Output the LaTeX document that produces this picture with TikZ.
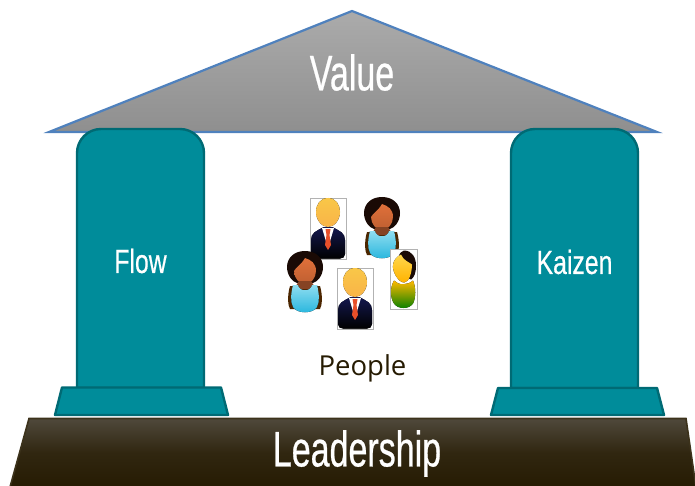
\documentclass[tikz,border=0pt]{standalone}
\usepackage{fontspec}
\setmainfont{Open Sans}
\newfontfamily\condfont[FakeStretch=0.68,FakeBold=0.5]{Liberation Sans}
\newfontfamily\condfontb[FakeStretch=0.74,FakeBold=0.4]{Liberation Sans}
\definecolor{tealfill}{HTML}{008C9A}
\definecolor{tealline}{HTML}{006A74}
\definecolor{roofline}{HTML}{4F81BD}
\definecolor{darkbase}{HTML}{261B02}
\definecolor{midbase}{HTML}{4F483B}
\definecolor{skinm}{HTML}{F8BD55}
\definecolor{suit}{HTML}{14184E}
\definecolor{tiered}{HTML}{E8502A}
\definecolor{skind}{HTML}{E0703A}
\definecolor{hair}{HTML}{1A0A05}
\definecolor{vesta}{HTML}{8FDDF0}
\definecolor{vestb}{HTML}{25B5DD}
\tikzset{
  x=1pt,y=-1pt,
  pillarshape/.style={fill=tealfill,draw=tealline,line width=2.4pt,line join=round},
  roofshape/.style={top color=black!33,bottom color=black!44,draw=roofline,line width=2.2pt,line join=miter},
  baseshape/.style={draw=darkbase!90,line width=1.6pt,top color=midbase,bottom color=darkbase,middle color=darkbase!75!midbase},
  condlabel/.style={text=white,inner sep=0pt},
  manicon/.pic={
    \draw[black!30,line width=.9pt,fill=white] (0,0) rectangle (36,61);
    \fill[top color=suit,bottom color=black] (1,42) .. controls (1,35) and (6,33) .. (14,29) -- (22,29) .. controls (30,33) and (35,35) .. (35,42) -- (35,56) .. controls (35,59) and (33,60.5) .. (30,60.5) -- (6,60.5) .. controls (3,60.5) and (1,59) .. (1,56) -- cycle;
    \fill[white] (12,30) -- (24,30) -- (18,50) -- cycle;
    \fill[tiered] (15.5,31) -- (20.5,31) -- (19.5,37) -- (21,47) -- (18,52) -- (15,47) -- (16.5,37) -- cycle;
    \fill[top color=skinm!85!yellow,bottom color=skinm!85!orange] (18,0) .. controls (26,0) and (30,7) .. (30,14) .. controls (30,22) and (24,29) .. (18,29) .. controls (12,29) and (6,22) .. (6,14) .. controls (6,7) and (10,0) .. (18,0) -- cycle;
  },
  womanicon/.pic={
    \fill[black!70!orange] (3,35) .. controls (0,45) and (1,55) .. (3,58) -- (33,58) .. controls (35,55) and (36,45) .. (33,35) -- cycle;
    \fill[hair] (18,0) .. controls (29,0) and (36,7) .. (36,16) .. controls (36,25) and (30,31) .. (26,32) -- (10,32) .. controls (6,31) and (0,25) .. (0,16) .. controls (0,7) and (7,0) .. (18,0) -- cycle;
    \fill[top color=skind,bottom color=skind!85!black] (18,7) .. controls (24,9) and (29,12) .. (29,20) .. controls (29,27) and (24,33) .. (18,33) .. controls (12,33) and (7,27) .. (7,20) .. controls (9,16) and (14,14) .. (18,7) -- cycle;
    \fill[skind!60!black] (12,30) -- (24,30) -- (29,38) -- (7,38) -- cycle;
    \fill[top color=vesta,bottom color=vestb] (6,34) -- (11,34) .. controls (12,41) and (24,41) .. (25,34) -- (30,34) .. controls (32,42) and (33,50) .. (30,56) .. controls (26,63) and (10,63) .. (6,56) .. controls (3,50) and (4,42) .. (6,34) -- cycle;
  },
  girlicon/.pic={
    \draw[black!30,line width=.9pt,fill=white] (0,0) rectangle (27,60);
    \fill[hair] (14,1) .. controls (22,1) and (26,8) .. (26,16) .. controls (26,24) and (24,28) .. (21,30) -- (8,24) .. controls (6,10) and (9,2) .. (14,1) -- cycle;
    \fill[top color=orange!55!yellow,bottom color=green!50!black] (4,31) .. controls (8,36) and (18,36) .. (23,31) .. controls (26,38) and (26,48) .. (23,54) .. controls (19,60) and (8,60) .. (4,54) .. controls (0,48) and (0,38) .. (4,31) -- cycle;
    \fill[top color=yellow!55!orange!70!white,bottom color=orange!60!yellow] (11,5) .. controls (13,11) and (20,13) .. (22,15) .. controls (22,23) and (19,33) .. (14,33) .. controls (9,33) and (2,23) .. (3,15) .. controls (4,10) and (7,7) .. (11,5) -- cycle;
  },
}
\begin{document}
\begin{tikzpicture}
\useasboundingbox (0,0) rectangle (695,486);
% roof
\path[roofshape] (352,11) -- (657,132) -- (49,132) -- cycle;
% pillars
\path[pillarshape] (77,388) [rounded corners=24pt]-- (77,129) -- (204,129) [sharp corners]-- (204,388) -- cycle;
\path[pillarshape] (511,388) [rounded corners=24pt]-- (511,129) -- (638,129) [sharp corners]-- (638,388) -- cycle;
\path[pillarshape] (62,387.5) -- (221,387.5) -- (228,415) -- (55,415) -- cycle;
\path[pillarshape] (498,388) -- (657,388) -- (664,415) -- (491,415) -- cycle;
% foundation
\path[baseshape] (29,418.5) -- (686,418.5) -- (696,487) -- (10,487) -- cycle;
% people
\pic at (310,198) {manicon};
\pic at (364,197) {womanicon};
\pic at (390,249.5) {girlicon};
\pic at (287,251) {womanicon};
\pic at (337,268) {manicon};
% labels
\node[condlabel,font=\condfont\fontsize{50}{50}\selectfont] (value) at (352,72.5) {Value};
\node[condlabel,font=\condfont\fontsize{50}{50}\selectfont] (leadership) at (357,453.5) {Leadership};
\node[condlabel,font=\condfontb\fontsize{33.5}{33.5}\selectfont] (flow) at (140.5,261) {Flow};
\node[condlabel,font=\condfontb\fontsize{33.5}{33.5}\selectfont] (kaizen) at (574.5,262) {Kaizen};
\node[inner sep=0pt,text=darkbase,font=\fontsize{27.5}{27.5}\selectfont] (people) at (362.5,368) {People};
\end{tikzpicture}
\end{document}
